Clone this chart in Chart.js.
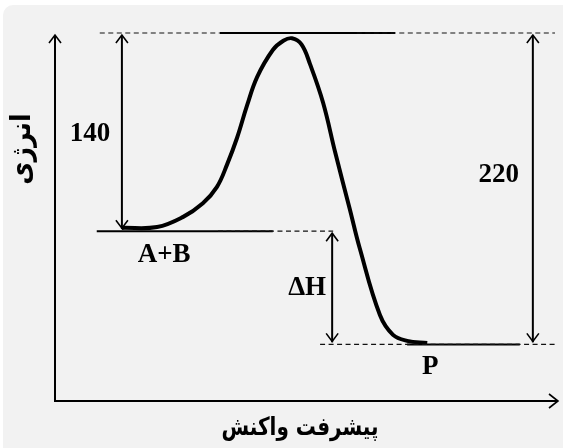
<!DOCTYPE html>
<html>
<head>
<meta charset="utf-8">
<script src="https://cdn.jsdelivr.net/npm/chart.js@4.4.1/dist/chart.umd.min.js"></script>
<style>
  html, body { margin: 0; padding: 0; background: #fff; overflow: hidden; }
  #panel { position: absolute; left: 3px; top: 5px; width: 580px; height: 460px; background: #f2f2f2; border-radius: 10px; }
  #energyChart { position: absolute; left: 0; top: 0; }
</style>
</head>
<body>
<div id="panel"></div>
<canvas id="energyChart" width="563" height="448"></canvas>
<script>
// reaction coordinate (0-100) and energy along the path
var progress = [13.3, 20.3, 25.4, 29.4, 32.2, 34.2, 36.2, 38.2, 40.2, 43.3, 45.4, 47.1, 49.0, 50.7, 53.3, 55.7, 58.6, 60.6, 64.6, 67.2, 70, 74];
var energy = [122.3, 122.9, 129.9, 139.7, 151.3, 167, 186, 209, 229, 248, 254.5, 256.3, 252, 238, 210.7, 175.7, 135.7, 107.7, 60.7, 46.7, 42.5, 41];

// energy levels
var reactantEnergy = 120;
var peakEnergy = 260;
var productEnergy = 40;
var levelNames = ["A+B", "P"];

// double arrows: x, from, to, label
var arrowX = [13.3, 55.1, 95];
var arrowFrom = [reactantEnergy, productEnergy, productEnergy];
var arrowTo = [peakEnergy, reactantEnergy, peakEnergy];
var arrowLabels = ["140", "\u0394H", "220"];

var xTitle = "پیشرفت واکنش";
var yTitle = "انرژی";

function seg(x1, x2, y, dashed, width) {
  return {
    data: [{ x: x1, y: y }, { x: x2, y: y }],
    showLine: true,
    borderColor: dashed ? "#111" : "#000",
    borderWidth: width || (dashed ? 1.2 : 2),
    borderDash: dashed ? [5, 3.5] : [],
    pointRadius: 0,
    clip: false
  };
}

var datasets = [];
// level lines
datasets.push(seg(8.9, 32.8, peakEnergy, true));
datasets.push(seg(60, 99.4, peakEnergy, true));
datasets.push(seg(32.8, 67.6, peakEnergy, false));
datasets.push(seg(32.4, 55.3, reactantEnergy, true));
datasets.push(seg(8.3, 43.3, reactantEnergy, false));
datasets.push(seg(52.7, 99.4, productEnergy, true));
datasets.push(seg(70, 92.4, productEnergy, false));
// arrow shafts
for (var i = 0; i < arrowX.length; i++) {
  var shaft = seg(arrowX[i], arrowX[i], 0, false, 2);
  shaft.data = [{ x: arrowX[i], y: arrowFrom[i] + 1.5 }, { x: arrowX[i], y: arrowTo[i] - 1.5 }];
  datasets.push(shaft);
}
// energy profile
datasets.push({
  data: progress.map(function (p, i) { return { x: p, y: energy[i] }; }),
  showLine: true,
  borderColor: "#000",
  borderWidth: 4,
  tension: 0.4,
  pointRadius: 0,
  clip: false
});

function chevron(ctx, x, y, dir) {
  // dir: -1 tip up, 1 tip down
  ctx.beginPath();
  ctx.moveTo(x - 6, y - dir * 8);
  ctx.lineTo(x, y);
  ctx.lineTo(x + 6, y - dir * 8);
  ctx.stroke();
}

var diagramDecor = {
  id: "diagramDecor",
  afterDatasetsDraw: function (chart) {
    var ctx = chart.ctx;
    var a = chart.chartArea;
    var xs = chart.scales.x, ys = chart.scales.y;
    ctx.save();
    ctx.strokeStyle = "#000";
    ctx.fillStyle = "#000";

    // axes
    ctx.lineWidth = 2;
    ctx.beginPath();
    ctx.moveTo(a.left, a.bottom);
    ctx.lineTo(a.left, a.top + 2);
    ctx.moveTo(a.left - 1, a.bottom);
    ctx.lineTo(a.right, a.bottom);
    ctx.stroke();
    ctx.lineWidth = 1.6;
    chevron(ctx, a.left, a.top + 2, -1);
    ctx.beginPath();
    ctx.moveTo(a.right - 9, a.bottom - 7);
    ctx.lineTo(a.right, a.bottom);
    ctx.lineTo(a.right - 9, a.bottom + 7);
    ctx.stroke();

    // arrow heads
    for (var i = 0; i < arrowX.length; i++) {
      var px = xs.getPixelForValue(arrowX[i]);
      chevron(ctx, px, ys.getPixelForValue(arrowTo[i]) + 2, -1);
      chevron(ctx, px, ys.getPixelForValue(arrowFrom[i]) - 3, 1);
    }

    // arrow labels
    ctx.font = "bold 27px 'Liberation Serif'";
    ctx.textAlign = "center";
    ctx.textBaseline = "middle";
    ctx.fillText(arrowLabels[0], xs.getPixelForValue(arrowX[0]) - 32, ys.getPixelForValue((arrowFrom[0] + arrowTo[0]) / 2) + 2);
    ctx.fillText(arrowLabels[1], xs.getPixelForValue(arrowX[1]) - 25, ys.getPixelForValue((arrowFrom[1] + arrowTo[1]) / 2));
    ctx.fillText(arrowLabels[2], xs.getPixelForValue(arrowX[2]) - 34, ys.getPixelForValue(160));

    // level names
    ctx.fillText(levelNames[0], xs.getPixelForValue(21.7), ys.getPixelForValue(reactantEnergy) + 24);
    ctx.fillText(levelNames[1], xs.getPixelForValue(74.6), ys.getPixelForValue(productEnergy) + 23);

    // axis titles
    ctx.font = "bold 25px 'DejaVu Sans'";
    ctx.direction = "rtl";
    ctx.save();
    ctx.translate(300, 428);
    ctx.scale(0.8, 1);
    ctx.fillText(xTitle, 0, 0);
    ctx.restore();
    ctx.translate(23, 149);
    ctx.rotate(-Math.PI / 2);
    ctx.font = "bold 28px 'DejaVu Sans'";
    ctx.scale(0.9, 1);
    ctx.fillText(yTitle, 0, 0);
    ctx.restore();
  }
};

new Chart("energyChart", {
  type: "scatter",
  data: { datasets: datasets },
  options: {
    responsive: false,
    animation: false,
    layout: { padding: { left: 55, right: 5, top: 33, bottom: 47 } },
    plugins: { legend: { display: false }, tooltip: { enabled: false } },
    scales: {
      x: { type: "linear", min: 0, max: 100, display: false },
      y: { min: 0, max: 260, display: false }
    }
  },
  plugins: [diagramDecor]
});
</script>
</body>
</html>
